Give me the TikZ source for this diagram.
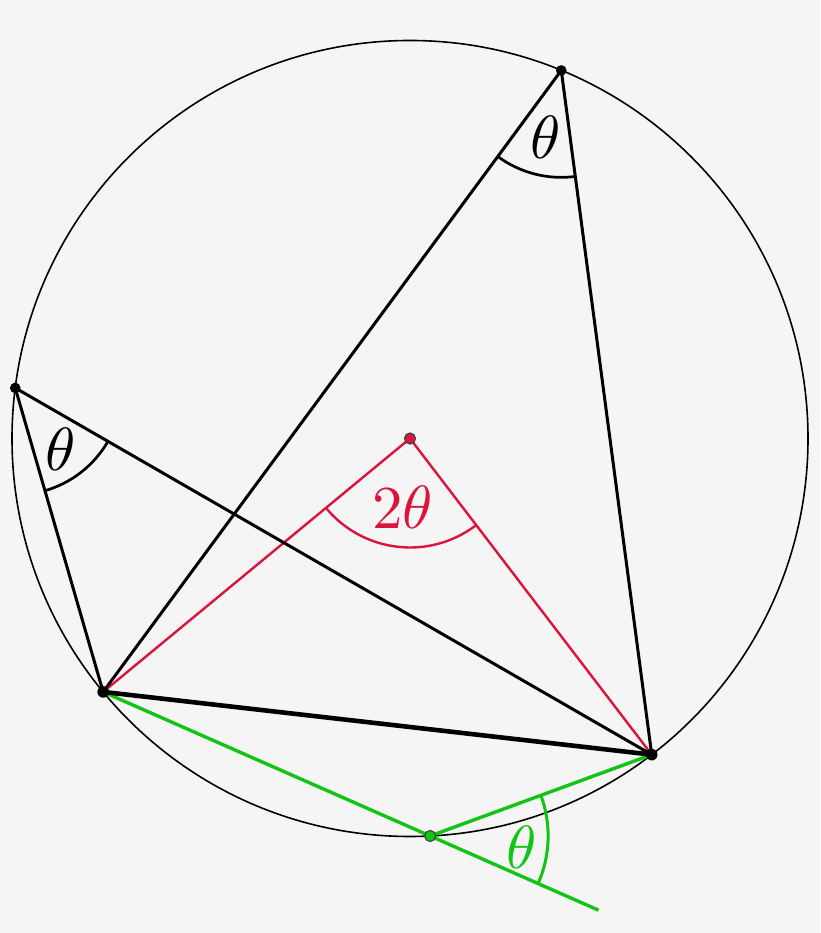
\documentclass[tikz,border=0pt]{standalone}
\usepackage{graphicx}
\usetikzlibrary{calc,angles}
\definecolor{bg}{HTML}{F5F5F5}
\definecolor{myred}{HTML}{DC143C}
\definecolor{mygreen}{RGB}{20,196,20}
\newcommand{\bigsym}[1]{\scalebox{6.1}{$#1$}}
\tikzset{
  circ/.style={line width=1.6pt, black},
  chord/.style={line width=3pt, black},
  base/.style={line width=4.6pt, black},
  redl/.style={line width=2.4pt, myred},
  greenl/.style={line width=3.4pt, mygreen},
  arcl/.style={draw, line width=2.7pt},
  lbl/.style={inner sep=0pt},
  bdot/.style={fill=black},
}
\begin{document}
\begin{tikzpicture}[x=1pt,y=1pt,line join=round]
\fill[bg] (0,0) rectangle (820,933);
\useasboundingbox (0,0) rectangle (820,933);
\coordinate (O) at (410,494.5);
\coordinate (T) at ($(O)+(67.66:398)$);
\coordinate (L) at ($(O)+(172.7:398)$);
\coordinate (A) at ($(O)+(219.55:398)$);
\coordinate (B) at ($(O)+(307.4:398)$);
\coordinate (G) at ($(O)+(272.9:398)$);
\coordinate (E) at ($(A)!1.515!(G)$);
% circle
\draw[circ] (O) circle[radius=398pt];
% angle arcs
\pic[arcl, black, angle radius=107pt] {angle = A--T--B};
\pic[arcl, black, angle radius=107pt] {angle = A--L--B};
\pic[arcl, myred, line width=2.4pt, angle radius=109pt] {angle = A--O--B};
\pic[arcl, mygreen, line width=3pt, angle radius=118pt] {angle = E--G--B};
% chords
\draw[redl] (A) -- (O) -- (B);
\draw[greenl] (A) -- (E);
\draw[greenl] (G) -- (B);
\draw[chord] (A) -- (T) -- (B);
\draw[chord] (A) -- (L) -- (B);
\draw[base] (A) -- (B);
% labels
\node[lbl] (lT) at (546,795.5) {\bigsym{\theta}};
\node[lbl] (lL) at (60.5,484) {\bigsym{\theta}};
\node[lbl, text=myred] (lO) at (402.5,426) {\bigsym{2\theta}};
\node[lbl, text=mygreen] (lG) at (522,85.5) {\bigsym{\theta}};
% dots
\fill[bdot] (T) circle[radius=5.3pt];
\fill[bdot] (L) circle[radius=5.3pt];
\fill[bdot] (A) circle[radius=5.8pt];
\fill[bdot] (B) circle[radius=5.8pt];
\filldraw[fill=myred, draw=black!75, line width=1.2pt] (O) circle[radius=5.5pt];
\filldraw[fill=mygreen, draw=black!75, line width=1.2pt] (G) circle[radius=5.5pt];
\end{tikzpicture}
\end{document}
